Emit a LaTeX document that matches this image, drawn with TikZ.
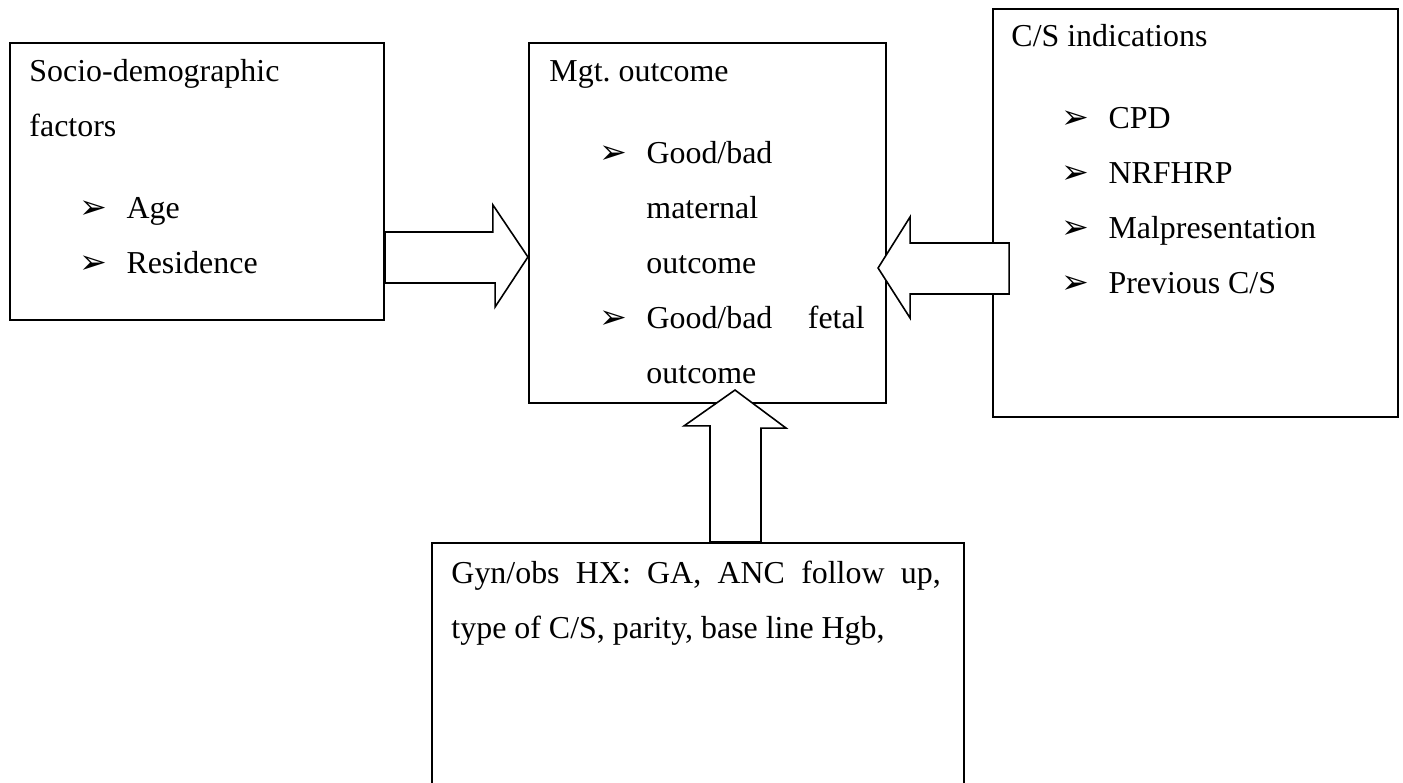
\documentclass[tikz,border=0pt]{standalone}
\usepackage{fontspec}
\setmainfont{Liberation Serif}
\newfontfamily\dingfont{DejaVu Sans}
\usetikzlibrary{calc}

\newcommand{\bul}{{\dingfont\fontsize{12.5}{12.5}\selectfont ➢}}
\newcommand{\itm}[1]{\makebox[17.7pt][l]{\bul}#1}

\tikzset{
  box/.style={draw, line width=0.8pt, inner sep=0pt, rectangle},
  txt/.style={anchor=base west, inner sep=0pt, font=\fontsize{12}{20.7}\selectfont},
  blockarrow/.style={draw, fill=white, line width=0.6pt, line join=miter},
}

\begin{document}
\begin{tikzpicture}[x=0.376pt, y=-0.376pt]
    \useasboundingbox (0,0) rectangle (1403,783);
    \clip (0,0) rectangle (1403,783);

    % boxes
    \node[box, minimum width=374*0.376pt, minimum height=277*0.376pt] (soc) at (197,181.5) {};
    \node[box, minimum width=357*0.376pt, minimum height=360*0.376pt] (mgt) at (707.5,223) {};
    \node[box, minimum width=405*0.376pt, minimum height=408*0.376pt] (cs) at (1195.5,213) {};
    \node[box, minimum width=532*0.376pt, minimum height=257*0.376pt] (gyn) at (698,671.5) {};

    % block arrows
    \coordinate (tipsoc) at (mgt.west |- 0,257);
    \draw[blockarrow] (tipsoc) -- ++(-35,-52) -- ++(0,27) -- (soc.east |- 0,232)
        -- (soc.east |- 0,283) -- ++(110,0) -- ++(0,24) -- cycle;

    \coordinate (tipcs) at ($(mgt.east |- 0,268)+(-9,0)$);
    \draw[blockarrow] (tipcs) -- ++(32,-51) -- ++(0,26) -- ++(99,0)
        -- ++(0,51) -- ++(-99,0) -- ++(0,24) -- cycle;

    \coordinate (tipgyn) at ($(mgt.south)+(27.5,-14)$);
    \draw[blockarrow] (tipgyn) -- ++(51,38) -- ++(-25,0) -- (gyn.north -| 761,0)
        -- (gyn.north -| 710,0) -- ++(0,-116) -- ++(-26,0) -- cycle;

    % socio-demographic
    \node[txt] (soc1) at ($(soc.north west)+(20,40)$) {Socio-demographic};
    \node[txt] (soc2) at ($(soc.north west)+(20,95)$) {factors};
    \node[txt] (age) at ($(soc.north west)+(70,177)$) {\itm{Age}};
    \node[txt] (res) at ($(soc.north west)+(70,232)$) {\itm{Residence}};

    % management outcome
    \node[txt] (mgt1) at ($(mgt.north west)+(21,40)$) {Mgt.\ outcome};
    \node[txt] (mat1) at ($(mgt.north west)+(71,122)$) {\itm{Good/bad}};
    \node[txt] (mat2) at ($(mgt.north west)+(118,177)$) {maternal};
    \node[txt] (mat3) at ($(mgt.north west)+(118,232)$) {outcome};
    \node[txt] (fet1) at ($(mgt.north west)+(71,287)$) {\itm{\makebox[82pt][s]{Good/bad fetal}}};
    \node[txt] (fet2) at ($(mgt.north west)+(118,342)$) {outcome};

    % C/S indications
    \node[txt] (cs1) at ($(cs.north west)+(19,39)$) {C/S indications};
    \node[txt] (cpd) at ($(cs.north west)+(69,121)$) {\itm{CPD}};
    \node[txt] (nrf) at ($(cs.north west)+(69,176)$) {\itm{NRFHRP}};
    \node[txt] (mal) at ($(cs.north west)+(69,231)$) {\itm{Malpresentation}};
    \node[txt] (prev) at ($(cs.north west)+(69,286)$) {\itm{Previous C/S}};

    % gyn/obs history
    \node[txt] (gyn1) at ($(gyn.north west)+(20,42)$) {\makebox[184pt][s]{Gyn/obs HX: GA, ANC follow up,}};
    \node[txt] (gyn2) at ($(gyn.north west)+(20,97)$) {type of C/S, parity, base line Hgb,};
\end{tikzpicture}
\end{document}
